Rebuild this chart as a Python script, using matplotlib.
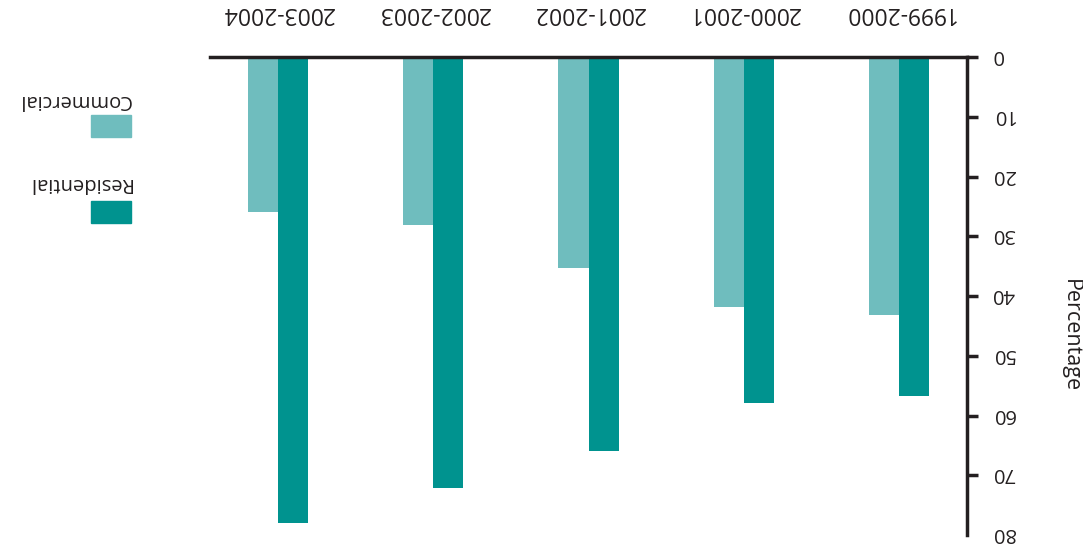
import matplotlib
matplotlib.use("Agg")
import matplotlib.pyplot as plt
from matplotlib.patches import Rectangle
from matplotlib.transforms import ScaledTranslation
import numpy as np

plt.rcParams['font.family'] = ['Open Sans', 'DejaVu Sans']

periods = ["1999-2000", "2000-2001", "2001-2002", "2002-2003", "2003-2004"]
commercial = [43.1, 41.8, 35.3, 28.1, 25.9]
residential = [56.7, 57.9, 65.9, 72.1, 78.0]
y_ticks = [0, 10, 20, 30, 40, 50, 60, 70, 80]

c_com = "#6fbdbe"
c_res = "#00938f"
ink = "#231f20"

fig = plt.figure(figsize=(10.83, 5.55), dpi=100)
ax = fig.add_axes([210 / 1083, 1 - 535 / 555, (967 - 210) / 1083, (535 - 57) / 555])

x = np.arange(len(periods))
w = 0.194
ax.bar(x - w / 2, residential, width=w, color=c_res, zorder=2)
ax.bar(x + w / 2, commercial, width=w, color=c_com, zorder=2)

# whole chart is drawn turned half a turn
ax.set_xlim(4.44, -0.44)
ax.set_ylim(80, 0)

for s in ("left", "bottom"):
    ax.spines[s].set_visible(False)
for s in ("top", "right"):
    ax.spines[s].set_color(ink)
    ax.spines[s].set_linewidth(2.5)

ax.xaxis.tick_top()
ax.set_xticks(x)
ax.set_xticklabels(periods, rotation=180, fontsize=16.5, color=ink)
ax.tick_params(axis="x", length=0, pad=23)

ax.yaxis.tick_right()
ax.set_yticks(y_ticks)
ax.set_yticklabels([str(t) for t in y_ticks], rotation=180, fontsize=14.5, color=ink,
                   va="center")
ax.tick_params(axis="y", length=8, width=2.5, color=ink, pad=10)
ax.yaxis.get_major_ticks()[-1].tick2line.set_visible(False)
# nudge the turned digits up so they sit level with their ticks
nudge = ScaledTranslation(0, 2 / 100, fig.dpi_scale_trans)
for lbl in ax.get_yticklabels():
    lbl.set_transform(lbl.get_transform() + nudge)

fig.text(1070 / 1083, 1 - 336 / 555, "Percentage", rotation=270, fontsize=15.5,
         color=ink, ha="center", va="center")

# legend, drawn in figure pixels
legend_items = [("Commercial", c_com, 115, 100), ("Residential", c_res, 201, 183)]
for label, col, top, ty in legend_items:
    fig.patches.append(Rectangle((91 / 1083, 1 - (top + 22) / 555), 40 / 1083, 22 / 555,
                                 transform=fig.transFigure, color=col))
    fig.text(131 / 1083, 1 - ty / 555, label, rotation=180, fontsize=14.5,
             color=ink, ha="right", va="center")

fig.savefig("out.png", dpi=100)
